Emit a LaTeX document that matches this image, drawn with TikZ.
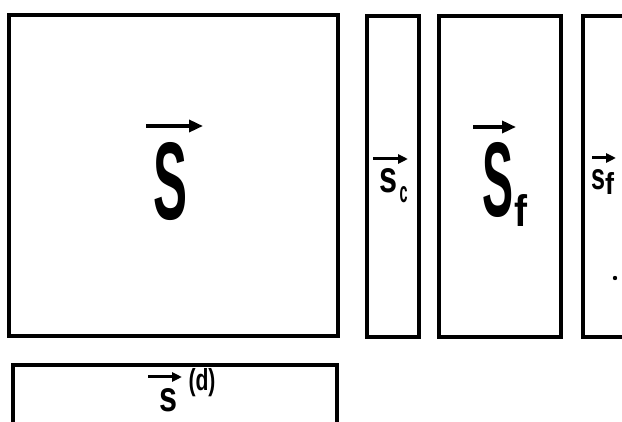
\documentclass[tikz,border=0pt]{standalone}
\usepackage{fontspec}
\setmainfont{Liberation Sans}
\usetikzlibrary{arrows.meta}
\tikzset{
  panel/.style={draw=black, line width=3.8pt, fill=none},
  vec/.style={line width=3.4pt, -{Triangle[length=14pt,width=12pt]}},
  smallvec/.style={line width=3pt, -{Triangle[length=10pt,width=9pt]}},
  glyph/.style={inner sep=0pt, outer sep=0pt},
}
\newcommand{\gl}[3]{\resizebox{#1pt}{#2pt}{\bfseries #3}}
\begin{document}
\begin{tikzpicture}[x=1pt,y=-1pt]
\useasboundingbox (0,0) rectangle (622,422);
\clip (0,0) rectangle (622,422);
% panels
\draw[panel] (9,15) rectangle (338,336);
\draw[panel] (367,16) rectangle (419,337);
\draw[panel] (439,16) rectangle (561,337);
\draw[panel] (583,16) rectangle (640,337);
\draw[panel] (13,365) rectangle (337,440);
% big S
\node[glyph] (S) at (171,181.5) {\gl{34}{77}{S}};
\coordinate (sa1) at (146,126); \coordinate (sa2) at (203,126);
\draw[vec] (sa1) -- (sa2);
% S_f
\node[glyph] (Sf) at (497.5,180) {\gl{31}{74}{S}};
\node[glyph] (Sfsub) at (521,211) {\gl{13}{32}{f}};
\coordinate (fa1) at (473,127); \coordinate (fa2) at (516,127);
\draw[vec] (fa1) -- (fa2);
% s_c
\node[glyph] (sc) at (388.5,181) {\gl{18}{24}{s}};
\node[glyph] (scsub) at (403.5,195) {\gl{8}{16}{c}};
\coordinate (ca1) at (373,159); \coordinate (ca2) at (408,159);
\draw[smallvec] (ca1) -- (ca2);
% s_f
\node[glyph] (sf) at (598.5,180) {\gl{14}{20}{s}};
\node[glyph] (sfsub) at (609.5,184) {\gl{9}{22}{f}};
\coordinate (ra1) at (592,158); \coordinate (ra2) at (616,158);
\draw[smallvec] (ra1) -- (ra2);
\fill (615,278) circle (2.2pt);
% s^(d)
\node[glyph] (sd) at (169,400.5) {\gl{18}{23}{s}};
\node[glyph] (sdsup) at (202,383) {\gl{27}{22}{(d)}};
\coordinate (da1) at (148,377); \coordinate (da2) at (182,377);
\draw[smallvec] (da1) -- (da2);
\end{tikzpicture}
\end{document}
